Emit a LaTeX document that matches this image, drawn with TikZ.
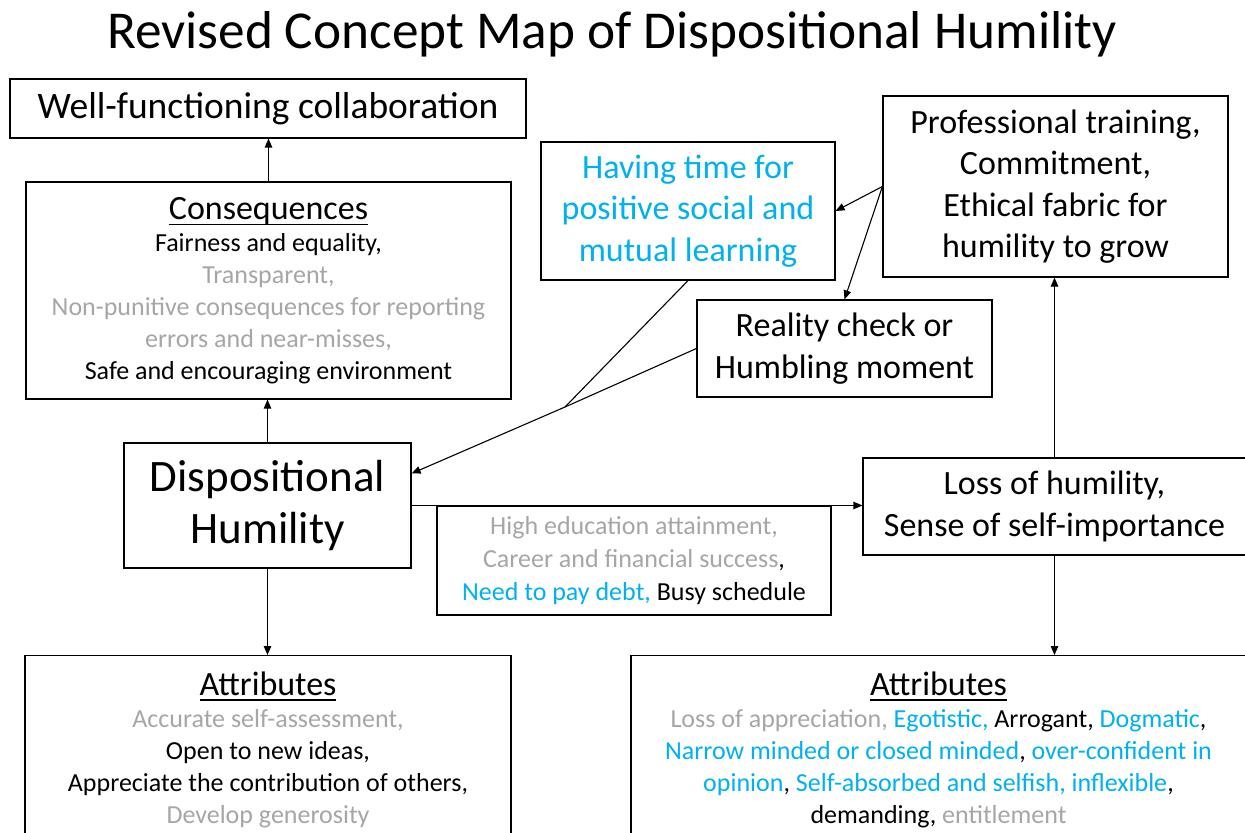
\documentclass[tikz,border=0pt]{standalone}
\usepackage{fontspec}
\setmainfont{Carlito}
\usepackage{xcolor}
\usetikzlibrary{positioning,arrows.meta,calc}

\definecolor{faint}{RGB}{166,166,166}
\definecolor{sky}{RGB}{0,176,240}
\newcommand{\fsize}[2]{\fontsize{#1bp}{#2bp}\selectfont}
\newcommand{\greytxt}[1]{\textcolor{faint}{#1}}
\newcommand{\bluetxt}[1]{\textcolor{sky}{#1}}
% underlined box heading
\newcommand{\boxhead}[1]{\leavevmode\setbox0=\hbox{\fsize{34}{34}#1}\rlap{\rule[-6bp]{\wd0}{1.8bp}}\box0}

\begin{document}
\begin{tikzpicture}[
  x=1bp, y=-1bp,
  >={Triangle[length=9bp,width=7.5bp]},
  box/.style={draw, line width=1.2bp, align=center, inner sep=0pt},
  body/.style={font=\fsize{26}{32}},
  large/.style={font=\fsize{34}{41.5}},
  link/.style={->, line width=1.1bp},
]
\useasboundingbox (0,0) rectangle (1245,833);
\clip (0,0) rectangle (1245,833);

% Title
\node[anchor=base, font=\fsize{53.3}{60}] (title) at (612,48)
  {Revised Concept Map of Dispositional Humility};

% Left column
\node[box, font=\fsize{37.5}{40}, minimum width=516bp, minimum height=59bp]
  (collab) at (268,108.5) {Well-functioning collaboration};
\node[box, body, minimum width=485bp, minimum height=217bp]
  (cons) at (268.5,290.5)
  {\boxhead{Consequences}\\
   Fairness and equality,\\
   \greytxt{Transparent,}\\
   \greytxt{Non-punitive consequences for reporting}\\
   \greytxt{errors and near-misses,}\\
   Safe and encouraging environment};
\node[box, font=\fsize{45}{52}, minimum width=287bp, minimum height=125bp]
  (disp) at (267.5,505.5) {Dispositional\\Humility};
\node[box, body, anchor=north, minimum width=486bp, inner ysep=16bp]
  (attrL) at (268,655)
  {\boxhead{Attributes}\\
   \greytxt{Accurate self-assessment,}\\
   Open to new ideas,\\
   Appreciate the contribution of others,\\
   \greytxt{Develop generosity}};

% Middle
\node[box, large, text=sky, minimum width=294bp, minimum height=138bp]
  (having) at (688,211) {Having time for\\positive social and\\mutual learning};
\node[box, large, minimum width=295bp, minimum height=97bp]
  (reality) at (844.5,348.5) {Reality check or\\Humbling moment};
\node[box, font=\fsize{26}{33}, minimum width=394bp, minimum height=109bp]
  (factors) at (634,560.5)
  {\greytxt{High education attainment,}\\
   \greytxt{Career and financial success},\\
   \bluetxt{Need to pay debt,} Busy schedule};

% Right column
\node[box, large, minimum width=345bp, minimum height=181bp]
  (prof) at (1055.5,186.5)
  {Professional training,\\Commitment,\\Ethical fabric for\\humility to grow};
\node[box, large, minimum width=383bp, minimum height=97bp]
  (loss) at (1054.5,506.5) {Loss of humility,\\Sense of self-importance};
\node[box, body, anchor=north, minimum width=615bp, inner ysep=16bp]
  (attrR) at (938.5,655)
  {\boxhead{Attributes}\\
   \greytxt{Loss of appreciation,} \bluetxt{Egotistic,} Arrogant, \bluetxt{Dogmatic},\\
   \bluetxt{Narrow minded or closed minded}, \bluetxt{over-confident in}\\
   \bluetxt{opinion}, \bluetxt{Self-absorbed and selfish, inflexible},\\
   demanding, \greytxt{entitlement}};

% Links
\draw[link] (cons.north) -- (cons.north |- collab.south);
\draw[link] (disp.north) -- (disp.north |- cons.south);
\draw[link] (disp.south) -- (disp.south |- attrL.north);
\draw[link] (disp.east) -- (disp.east -| loss.west);
\draw[link] (loss.north) -- (loss.north |- prof.south);
\draw[link] (loss.south) -- (loss.south |- attrR.north);
\draw[link] (prof.west) -- (having.east);
\draw[link] (prof.west) -- (reality.north);

% Two paths merging into one
\coordinate (merge) at (565,407);
\draw[line width=1.1bp] (having.south) -- (merge);
\draw[link] (reality.west) -- (merge) -- ($(disp.east)+(0,-32)$);
\end{tikzpicture}
\end{document}
